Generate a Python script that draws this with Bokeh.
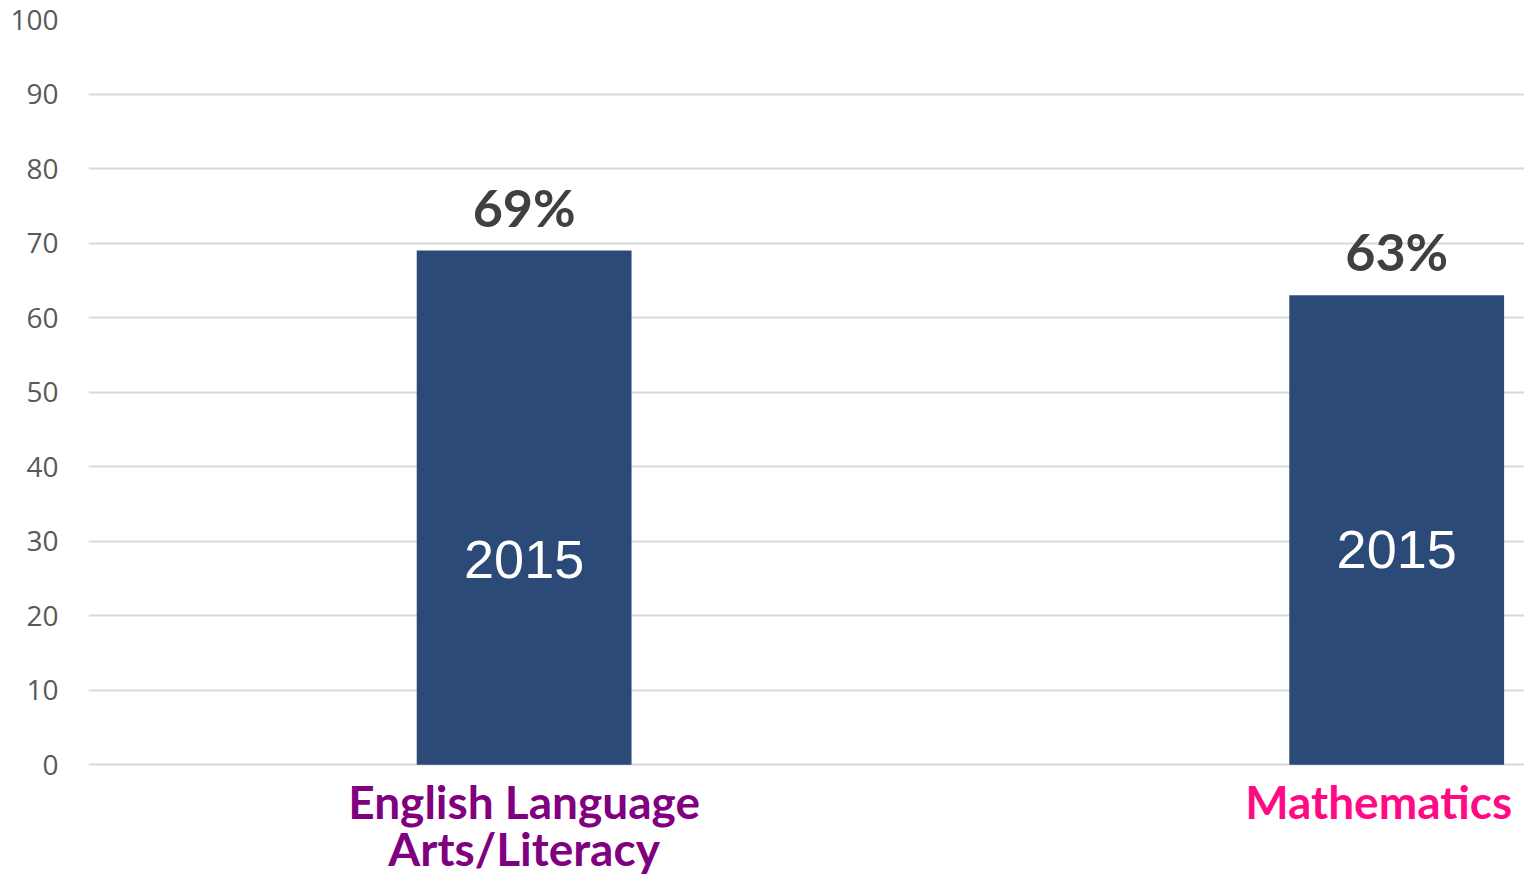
from bokeh.plotting import figure
from bokeh.models import Range1d, FixedTicker, ColumnDataSource
from bokeh.core.properties import value
from bokeh.embed import file_html
from bokeh.resources import INLINE

# ---- data ----
categories = ["English Language\nArts/Literacy", "Mathematics"]
values = [69, 63]
year_labels = ["2015", "2015"]
y_ticks = [0, 10, 20, 30, 40, 50, 60, 70, 80, 90, 100]

# ---- layout constants ----
spacing = 4.062
x_centers = [i * spacing for i in range(len(categories))]
bar_width = 1.0
year_y = [27.5, 28.9]
cat_colors = ["#800080", "#FF0A84"]
cat_x_offsets = [0, -18]
line_y = [-5.0, -11.2]

p = figure(width=1524, height=876, output_backend="svg", toolbar_location=None,
           x_range=Range1d(-2.028, 4.657), y_range=Range1d(-15.0, 100),
           min_border_left=88, min_border_right=0, min_border_top=19, min_border_bottom=0)
p.outline_line_color = None
p.background_fill_color = "white"
p.border_fill_color = "white"

src = ColumnDataSource(dict(x=x_centers, top=values,
                            pct=[f"{v}%" for v in values],
                            year=year_labels, year_y=year_y))
p.vbar(x="x", top="top", width=bar_width, bottom=0, source=src,
       fill_color="#2C4A77", line_color=None)

p.text(x="x", y="top", text="pct", source=src, text_align="center",
       text_baseline="bottom", y_offset=-13, text_color="#404040",
       text_font=value("Lato"), text_font_style="bold", text_font_size="52px")
p.text(x="x", y="year_y", text="year", source=src, text_align="center",
       text_baseline="middle", text_color="white",
       text_font=value("Liberation Sans"), text_font_size="54px")

# category labels below the zero line
lab_x, lab_y, lab_t, lab_c, lab_o = [], [], [], [], []
for xc, cat, col, off in zip(x_centers, categories, cat_colors, cat_x_offsets):
    for j, line in enumerate(cat.split("\n")):
        lab_x.append(xc)
        lab_y.append(line_y[j])
        lab_t.append(line)
        lab_c.append(col)
        lab_o.append(off)
lsrc = ColumnDataSource(dict(x=lab_x, y=lab_y, t=lab_t, c=lab_c, o=lab_o))
p.text(x="x", y="y", text="t", text_color="c", x_offset="o", source=lsrc,
       text_align="center", text_baseline="middle", text_font=value("Lato"),
       text_font_style="bold", text_font_size="46px")

# axes
p.xaxis.visible = False
p.xgrid.visible = False
p.yaxis.ticker = FixedTicker(ticks=y_ticks)
p.ygrid.ticker = FixedTicker(ticks=y_ticks)
p.ygrid.grid_line_color = "#D9D9D9"
p.ygrid.grid_line_width = 2
p.yaxis.axis_line_color = None
p.yaxis.major_tick_line_color = None
p.yaxis.minor_tick_line_color = None
p.yaxis.major_tick_out = 0
p.yaxis.major_tick_in = 0
p.yaxis.major_label_standoff = 30
p.yaxis.major_label_text_font = "Open Sans"
p.yaxis.major_label_text_font_size = "28px"
p.yaxis.major_label_text_color = "#595959"

open("out.html", "w").write(file_html(p, INLINE))
